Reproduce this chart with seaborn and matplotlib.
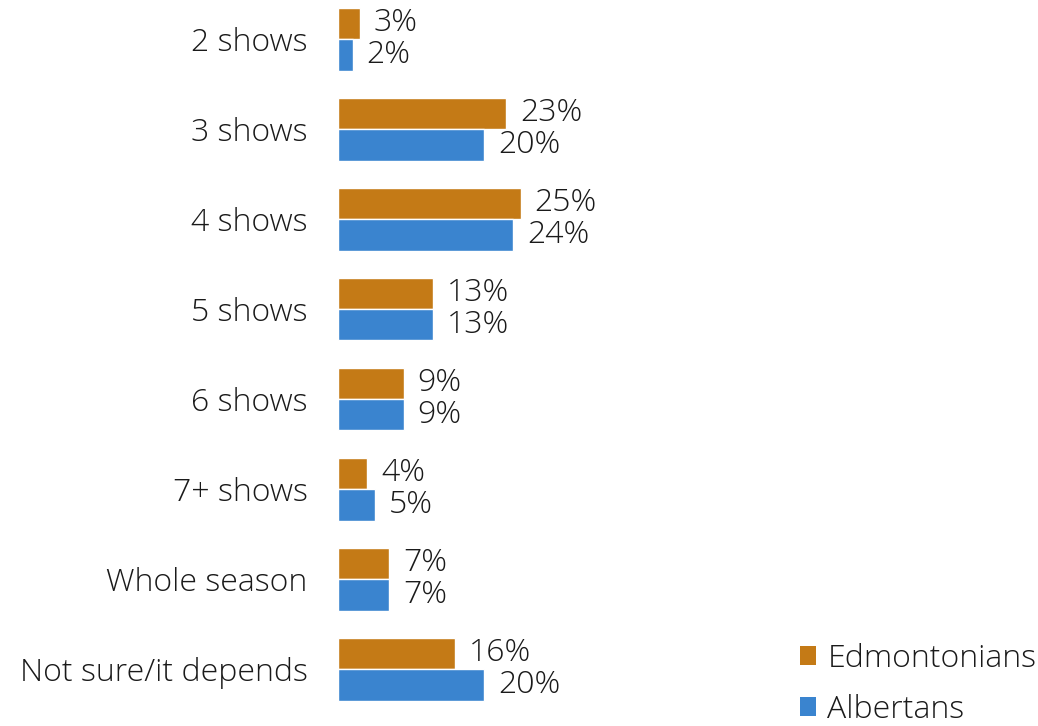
import matplotlib
matplotlib.use("Agg")
import matplotlib.pyplot as plt
import seaborn as sns
import pandas as pd
from matplotlib.patches import Patch

categories = ["2 shows", "3 shows", "4 shows", "5 shows", "6 shows",
              "7+ shows", "Whole season", "Not sure/it depends"]
edmontonians = [3, 23, 25, 13, 9, 4, 7, 16]
albertans = [2, 20, 24, 13, 9, 5, 7, 20]
series_names = ["Edmontonians", "Albertans"]
colors = ["#C47A16", "#3A84CF"]

df = pd.DataFrame({
    "category": categories * 2,
    "value": edmontonians + albertans,
    "group": [series_names[0]] * len(categories) + [series_names[1]] * len(categories),
})

sns.set_theme(style="white")
plt.rcParams["font.family"] = ["Open Sans", "DejaVu Sans"]
FS = 23
TXT = "#1a1a1a"

W, H = 1038, 726
fig = plt.figure(figsize=(W / 100, H / 100), dpi=100)
ax = fig.add_axes([338 / W, 0, 1 - 338 / W, 1])

sns.barplot(data=df, y="category", x="value", hue="group", order=categories,
            hue_order=series_names, palette=colors, width=0.7, orient="h",
            saturation=1, ax=ax, legend=False)

px_per_unit = 7.3
ax.set_xlim(0, (W - 338) / px_per_unit)
ax.set_ylim(7 + (H - 669) / 90, -39 / 90)

for container in ax.containers:
    ax.bar_label(container, labels=[f"{v:.0f}%" for v in container.datavalues],
                 padding=10, fontsize=FS, color=TXT, fontweight="light")

ax.set_xlabel("")
ax.set_ylabel("")
ax.set_xticks([])
ax.tick_params(axis="y", length=0, pad=22, labelsize=FS, labelcolor=TXT)
for lbl in ax.get_yticklabels():
    lbl.set_fontweight("light")
for s in ax.spines.values():
    s.set_visible(False)

handles = [Patch(facecolor=c, edgecolor="none") for c in colors]
leg = fig.legend(handles, series_names, loc="lower right", bbox_to_anchor=(1.017, -0.026),
                 frameon=False, fontsize=FS, handlelength=0.52, handleheight=0.52,
                 handletextpad=0.35, labelspacing=0.6, borderaxespad=0.2,
                 labelcolor=TXT)
for t in leg.get_texts():
    t.set_fontweight("light")

fig.savefig("out.png", dpi=100)
